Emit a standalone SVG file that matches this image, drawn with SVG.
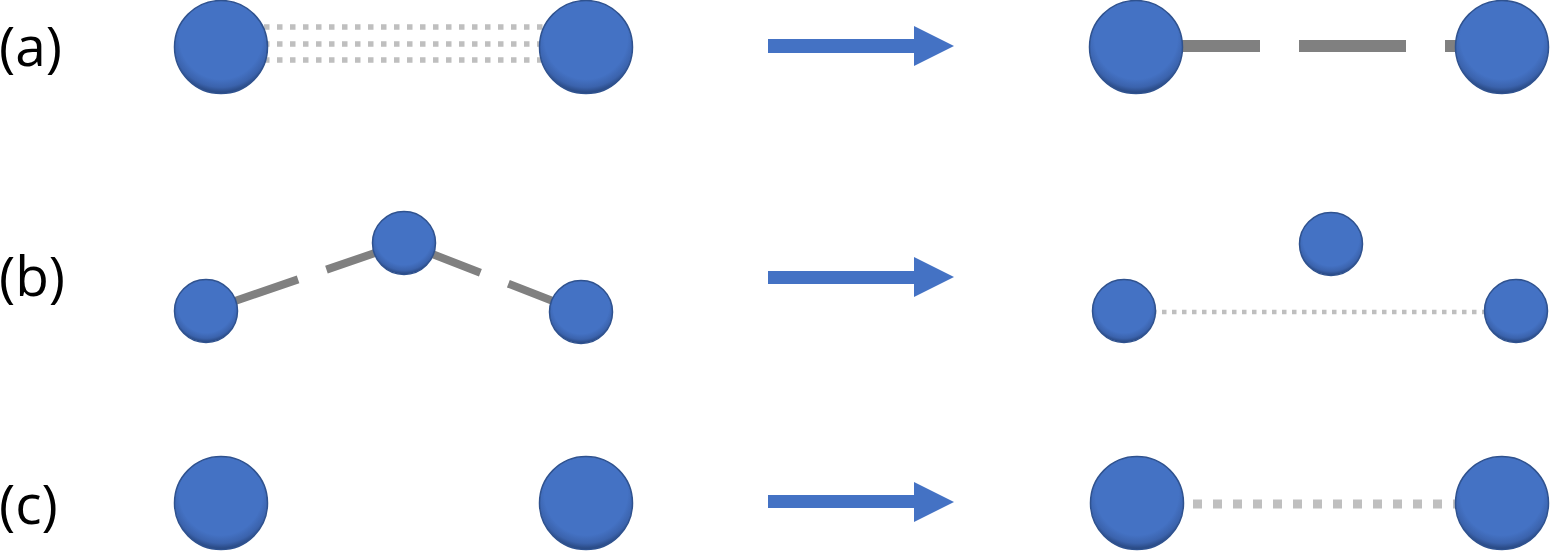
<svg xmlns="http://www.w3.org/2000/svg" width="1550" height="551" viewBox="0 0 1550 551">
<style>
.lbl{font-family:"Open Sans","Liberation Sans",sans-serif;font-size:55px;fill:#000}
.ball{fill:url(#ballGrad);stroke:#2F528F;stroke-width:1.5}
.arrow{fill:#4472C4}
.dash{stroke:#808080;fill:none}
.dot{stroke:#BFBFBF;fill:none}
</style>
<defs>
<radialGradient id="ballGrad" cx="0.5" cy="0.4" r="0.62">
<stop offset="0" stop-color="#4472C4"/>
<stop offset="0.72" stop-color="#4472C4"/>
<stop offset="0.86" stop-color="#3b63ad"/>
<stop offset="1" stop-color="#203c6e"/>
</radialGradient>
</defs>
<rect width="1550" height="551" fill="#fff"/>
<g id="labels">
<text class="lbl" x="-1" y="66">(a)</text>
<text class="lbl" x="-1" y="296">(b)</text>
<text class="lbl" x="-1" y="524">(c)</text>
</g>
<g id="connectors">
<line class="dot" x1="264" y1="27" x2="545" y2="27" stroke-width="5.5" stroke-dasharray="5.5 7.5"/>
<line class="dot" x1="264" y1="44" x2="545" y2="44" stroke-width="5.5" stroke-dasharray="5.5 7.5"/>
<line class="dot" x1="264" y1="60" x2="545" y2="60" stroke-width="5.5" stroke-dasharray="5.5 7.5"/>
<line class="dash" x1="1153" y1="46" x2="1500" y2="46" stroke-width="12" stroke-dasharray="107 39"/>
<line class="dash" x1="404" y1="243" x2="206" y2="311" stroke-width="8" stroke-dasharray="82 30"/>
<line class="dash" x1="404" y1="243" x2="581" y2="312" stroke-width="8" stroke-dasharray="82 30"/>
<line class="dot" x1="1152" y1="312" x2="1490" y2="312" stroke-width="4.5" stroke-dasharray="4.5 5.5"/>
<line class="dot" x1="1193" y1="504" x2="1462" y2="504" stroke-width="9" stroke-dasharray="9 11"/>
</g>
<g id="arrows">
<polygon class="arrow" points="768,39 914,39 914,26 954,46 914,66 914,53 768,53"/>
<polygon class="arrow" points="768,271 914,271 914,257 954,277 914,297 914,284 768,284"/>
<polygon class="arrow" points="768,495 914,495 914,482 954,502 914,522 914,508 768,508"/>
</g>
<g id="a-left-1"><circle class="ball" cx="221" cy="47" r="46.5"/></g>
<g id="a-left-2"><circle class="ball" cx="586" cy="47" r="46.5"/></g>
<g id="a-right-1"><circle class="ball" cx="1136" cy="47" r="46.5"/></g>
<g id="a-right-2"><circle class="ball" cx="1502" cy="47" r="46.5"/></g>
<g id="b-left-1"><circle class="ball" cx="206" cy="311" r="31.5"/></g>
<g id="b-left-2"><circle class="ball" cx="404" cy="243" r="31.5"/></g>
<g id="b-left-3"><circle class="ball" cx="581" cy="312" r="31.5"/></g>
<g id="b-right-1"><circle class="ball" cx="1124" cy="311" r="31.5"/></g>
<g id="b-right-2"><circle class="ball" cx="1331" cy="244" r="31.5"/></g>
<g id="b-right-3"><circle class="ball" cx="1516" cy="311" r="31.5"/></g>
<g id="c-left-1"><circle class="ball" cx="221" cy="503" r="46.5"/></g>
<g id="c-left-2"><circle class="ball" cx="586" cy="503" r="46.5"/></g>
<g id="c-right-1"><circle class="ball" cx="1137" cy="503" r="46.5"/></g>
<g id="c-right-2"><circle class="ball" cx="1502" cy="503" r="46.5"/></g>
</svg>
